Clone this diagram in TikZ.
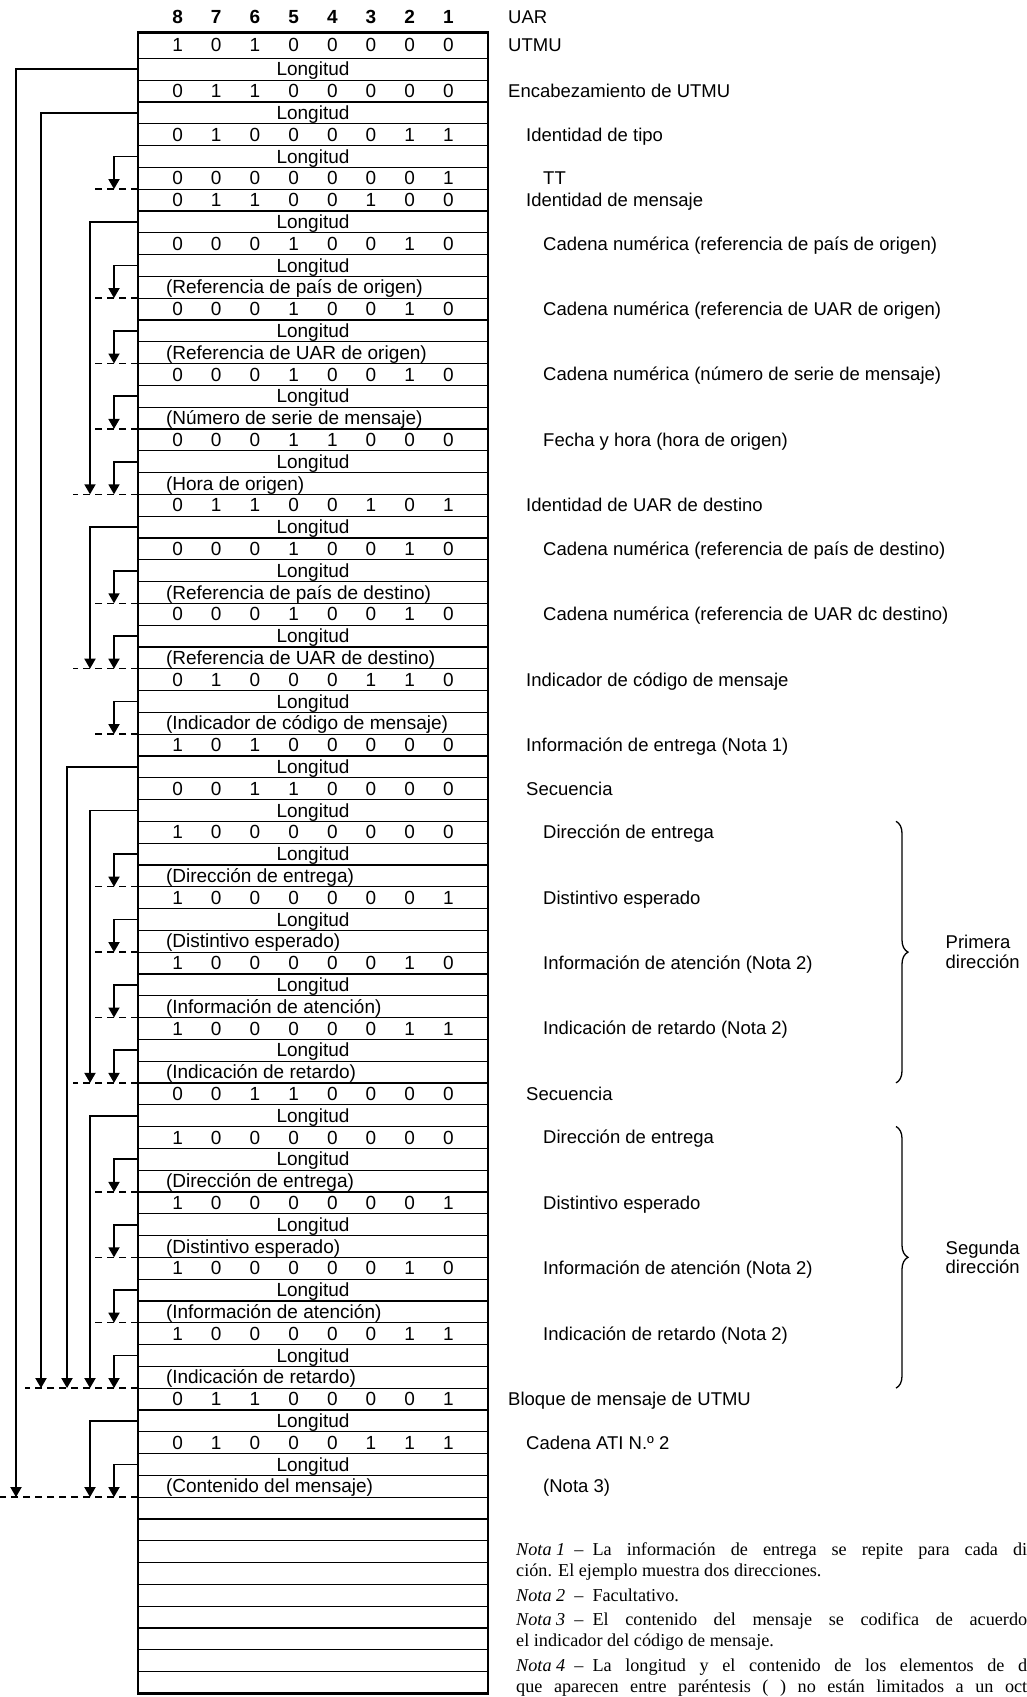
\documentclass[tikz,border=0pt]{standalone}
\usepackage{fontspec}
\setmainfont{Liberation Sans}
\newfontfamily\notefont{Liberation Serif}
\usetikzlibrary{arrows.meta,positioning,decorations.pathreplacing}
\newcommand\tabfont{\fontsize{19}{22}\selectfont}
\newcommand\lblfont{\fontsize{18.5}{19.5}\selectfont}
% one octet, bit 8 left
\newcommand\bits[8]{\makebox[38.7pt]{#1}\makebox[38.7pt]{#2}\makebox[38.7pt]{#3}%
  \makebox[38.7pt]{#4}\makebox[38.7pt]{#5}\makebox[38.7pt]{#6}\makebox[38.7pt]{#7}%
  \makebox[38.7pt]{#8}}
\newcommand\pp[1]{\makebox[350pt][l]{\hspace{28pt}#1}}
\newcommand\nota[1]{\mbox{\textit{Nota #1}\enspace–\enspace}}

\begin{document}
\begin{tikzpicture}[x=1pt,y=-1pt,
  R/.style={draw,line width=1.2pt,minimum width=350pt,minimum height=21.8pt,
            inner sep=0pt,outer sep=0pt,font=\tabfont,
            text height=13.3pt,text depth=0pt},
  H/.style={R,draw=none,minimum height=30pt,font=\tabfont\bfseries},
  L/.style={font=\lblfont,inner sep=0pt,text height=13pt,text depth=0pt},
  LB/.style={font=\lblfont,inner sep=0pt,align=left},
  N/.style={font=\notefont\fontsize{18.2}{21}\selectfont,inner sep=0pt,
            anchor=base west},
  ar/.style={-{Triangle[length=10pt,width=11pt]},line width=1.8pt},
  ad/.style={dash pattern=on 7pt off 5pt,line width=1.3pt},
  br/.style={decorate,decoration={brace,amplitude=12pt},line width=1.3pt}
]
\path[use as bounding box,fill=white] (0,0) rectangle (1027,1697);

% octets
\node[R,minimum height=26pt] (r1) at (313,45.3) {\bits10100000};
\node[H,above=0pt of r1] (hd) {\bits87654321};
\foreach \t [count=\i from 2,remember=\i as \j (initially 1)] in {%
  Longitud,\bits01100000,Longitud,\bits01000011,Longitud,\bits00000001,%
  \bits01100100,Longitud,\bits00010010,Longitud,%
  \pp{(Referencia de país de origen)},\bits00010010,Longitud,%
  \pp{(Referencia de UAR de origen)},\bits00010010,Longitud,%
  \pp{(Número de serie de mensaje)},\bits00011000,Longitud,%
  \pp{(Hora de origen)},\bits01100101,Longitud,\bits00010010,Longitud,%
  \pp{(Referencia de país de destino)},\bits00010010,Longitud,%
  \pp{(Referencia de UAR de destino)},\bits01000110,Longitud,%
  \pp{(Indicador de código de mensaje)},\bits10100000,Longitud,%
  \bits00110000,Longitud,\bits10000000,Longitud,%
  \pp{(Dirección de entrega)},\bits10000001,Longitud,%
  \pp{(Distintivo esperado)},\bits10000010,Longitud,%
  \pp{(Información de atención)},\bits10000011,Longitud,%
  \pp{(Indicación de retardo)},\bits00110000,Longitud,%
  \bits10000000,Longitud,\pp{(Dirección de entrega)},\bits10000001,Longitud,%
  \pp{(Distintivo esperado)},\bits10000010,Longitud,%
  \pp{(Información de atención)},\bits10000011,Longitud,%
  \pp{(Indicación de retardo)},\bits01100001,Longitud,%
  \bits01000111,Longitud,\pp{(Contenido del mensaje)}}
  \node[R,below=0pt of r\j] (r\i) {\t};
\foreach \i [remember=\i as \j (initially 67)] in {68,...,76}
  \node[R,below=0pt of r\j] (r\i) {};
\draw[line width=2.6pt] (r1.north west) rectangle (r76.south east);

% names on the right
\node[L,right=20pt of hd] (uar) {UAR};
\foreach \r/\d/\t in {1/20pt/UTMU,3/20pt/Encabezamiento de UTMU,
  5/38pt/Identidad de tipo,7/55pt/TT,8/38pt/Identidad de mensaje,
  10/55pt/Cadena numérica (referencia de país de origen),
  13/55pt/Cadena numérica (referencia de UAR de origen),
  16/55pt/Cadena numérica (número de serie de mensaje),
  19/55pt/Fecha y hora (hora de origen),
  22/38pt/Identidad de UAR de destino,
  24/55pt/Cadena numérica (referencia de país de destino),
  27/55pt/Cadena numérica (referencia de UAR dc destino),
  30/38pt/Indicador de código de mensaje,
  33/38pt/Información de entrega (Nota 1),35/38pt/Secuencia,
  37/55pt/Dirección de entrega,40/55pt/Distintivo esperado,
  43/55pt/Información de atención (Nota 2),
  46/55pt/Indicación de retardo (Nota 2),49/38pt/Secuencia,
  51/55pt/Dirección de entrega,54/55pt/Distintivo esperado,
  57/55pt/Información de atención (Nota 2),
  60/55pt/Indicación de retardo (Nota 2),
  63/20pt/Bloque de mensaje de UTMU,65/38pt/Cadena ATI N.º 2,67/55pt/(Nota 3)}
  \node[L,right=\d of r\r] (l\r) {\t};

\draw[br] ([xshift=408pt]r37.north east) --
  node[LB,right=49pt] (p1) {Primera\\dirección} ([xshift=408pt]r48.south east);
\draw[br] ([xshift=408pt]r51.north east) --
  node[LB,right=49pt] (p2) {Segunda\\dirección} ([xshift=408pt]r62.south east);

% length pointers
\foreach \a/\b in {6/7,11/12,14/15,17/18,20/21,25/26,28/29,31/32,38/39,41/42,
                   44/45,47/48,52/53,55/56,58/59,61/62,66/67}
  \draw[ar] (r\a.west) -| ([xshift=-24pt]r\b.south west);
\foreach \a/\b/\x in {2/67/-122pt,4/62/-97pt,9/21/-48pt,23/29/-48pt,
                      34/62/-71pt,36/48/-48pt,50/62/-48pt,64/67/-48pt}
  \draw[ar] (r\a.west) -| ([xshift=\x]r\b.south west);
\foreach \b/\x in {7/-43pt,12/-43pt,15/-43pt,18/-43pt,21/-65pt,26/-43pt,
                   29/-65pt,32/-43pt,39/-43pt,42/-43pt,45/-43pt,48/-65pt,
                   53/-43pt,56/-43pt,59/-43pt,62/-113pt,67/-138pt}
  \draw[ad] (r\b.south west) -- ++(\x,0);

% notes
\node[N] (n1) at (516,1555) {\makebox[511pt][s]{\nota{1}La
  información de entrega se repite para cada di}};
\node[N] (n1b) at (516,1576) {ción. El ejemplo muestra dos direcciones.};
\node[N] (n2) at (516,1601) {\nota{2}Facultativo.};
\node[N] (n3) at (516,1625) {\makebox[511pt][s]{\nota{3}El
  contenido del mensaje se codifica de acuerdo}};
\node[N] (n3b) at (516,1646) {el indicador del código de mensaje.};
\node[N] (n4) at (516,1671) {\makebox[511pt][s]{\nota{4}La
  longitud y el contenido de los elementos de d}};
\node[N] (n4b) at (516,1692) {\makebox[511pt][s]{que aparecen entre
  paréntesis ( ) no están limitados a un oct}};
\end{tikzpicture}
\end{document}
